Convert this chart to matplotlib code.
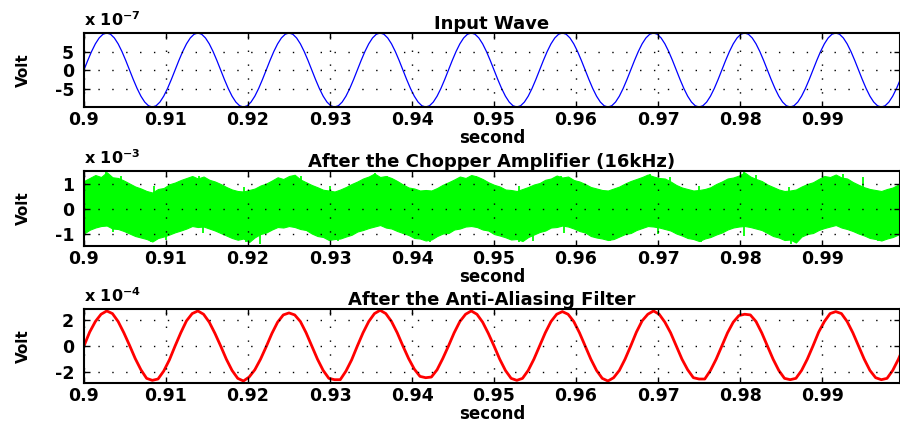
import numpy as np
import matplotlib.pyplot as plt

plt.rcParams['font.family'] = ['DejaVu Sans']
plt.rcParams['font.weight'] = 'bold'
plt.rcParams['axes.unicode_minus'] = False

# input tone: 90 Hz, one period sampled every 15 degrees (x 1e-7 V)
f_in = 90.0
input_cycle = [0.0, 2.59, 5.0, 7.07, 8.66, 9.66, 10.0, 9.66, 8.66, 7.07, 5.0, 2.59,
               0.0, -2.59, -5.0, -7.07, -8.66, -9.66, -10.0, -9.66, -8.66, -7.07, -5.0, -2.59]

# chopper amplifier output band, upper / lower edge, 16 points per input cycle (x 1e-3 V)
chop_upper = [
    [1.10, 1.22, 1.34, 1.26, 1.45, 1.25, 1.22, 1.12, 1.00, 0.88, 0.80, 0.70, 0.64, 0.78, 0.82, 0.97],
    [1.04, 1.14, 1.22, 1.30, 1.20, 1.28, 1.15, 1.08, 0.98, 0.86, 0.76, 0.70, 0.68, 0.74, 0.80, 0.92],
    [1.00, 1.12, 1.25, 1.18, 1.30, 1.35, 1.16, 1.05, 0.94, 0.85, 0.75, 0.72, 0.68, 0.76, 0.86, 0.98],
    [1.08, 1.20, 1.28, 1.40, 1.26, 1.30, 1.22, 1.10, 0.96, 0.84, 0.80, 0.72, 0.74, 0.72, 0.82, 0.95],
    [1.05, 1.16, 1.28, 1.22, 1.34, 1.28, 1.18, 1.05, 0.95, 0.88, 0.76, 0.74, 0.70, 0.78, 0.86, 0.96],
    [1.02, 1.15, 1.20, 1.32, 1.24, 1.28, 1.14, 1.08, 0.98, 0.86, 0.80, 0.74, 0.72, 0.80, 0.88, 1.00],
    [1.10, 1.18, 1.26, 1.36, 1.28, 1.22, 1.20, 1.08, 0.94, 0.84, 0.78, 0.72, 0.74, 0.78, 0.85, 0.98],
    [1.08, 1.20, 1.24, 1.32, 1.44, 1.28, 1.18, 1.10, 0.96, 0.86, 0.76, 0.70, 0.72, 0.76, 0.88, 0.98],
    [1.05, 1.18, 1.30, 1.26, 1.36, 1.24, 1.20, 1.06, 0.95, 0.85, 0.78, 0.74, 0.70, 0.78, 0.84, 0.96],
]
chop_lower = [
    [-1.00, -0.85, -0.76, -0.70, -0.68, -0.80, -0.82, -0.90, -1.00, -1.10, -1.16, -1.22, -1.32, -1.18, -1.12, -1.04],
    [-0.95, -0.88, -0.80, -0.70, -0.74, -0.72, -0.80, -0.88, -0.98, -1.08, -1.18, -1.25, -1.20, -1.34, -1.15, -1.02],
    [-0.96, -0.84, -0.74, -0.76, -0.70, -0.74, -0.82, -0.86, -1.00, -1.10, -1.14, -1.26, -1.22, -1.20, -1.12, -1.05],
    [-0.92, -0.86, -0.78, -0.72, -0.66, -0.76, -0.80, -0.90, -0.98, -1.06, -1.18, -1.20, -1.28, -1.24, -1.10, -1.00],
    [-0.98, -0.84, -0.80, -0.72, -0.70, -0.74, -0.84, -0.88, -1.02, -1.08, -1.15, -1.24, -1.22, -1.30, -1.14, -1.04],
    [-0.94, -0.88, -0.76, -0.74, -0.68, -0.72, -0.80, -0.90, -0.96, -1.10, -1.16, -1.20, -1.26, -1.22, -1.12, -1.02],
    [-0.98, -0.86, -0.78, -0.70, -0.72, -0.76, -0.82, -0.88, -1.00, -1.08, -1.18, -1.22, -1.30, -1.20, -1.14, -1.04],
    [-0.96, -0.84, -0.76, -0.72, -0.70, -0.74, -0.80, -0.86, -0.98, -1.10, -1.16, -1.26, -1.24, -1.36, -1.12, -1.02],
    [-0.98, -0.86, -0.78, -0.72, -0.66, -0.76, -0.82, -0.90, -1.00, -1.08, -1.18, -1.22, -1.28, -1.20, -1.14, -1.04],
]
chop_end = (1.05, -0.98)

# isolated noise spikes on the band edges (s, x 1e-3 V)
spike_up_t = [0.9027, 0.9045, 0.9085, 0.9140, 0.9195, 0.9265, 0.9300, 0.9355, 0.9370, 0.9478,
              0.9530, 0.9582, 0.9690, 0.9715, 0.9750, 0.9805, 0.9820, 0.9860, 0.9925, 0.9950]
spike_up_v = [1.48, 1.30, 0.90, 1.32, 0.88, 1.30, 0.90, 1.42, 1.32, 1.30,
              0.92, 1.32, 1.38, 1.28, 0.90, 1.45, 1.35, 0.88, 1.38, 1.28]
spike_dn_t = [0.9035, 0.9082, 0.9100, 0.9145, 0.9198, 0.9215, 0.9310, 0.9422, 0.9530, 0.9548,
              0.9585, 0.9642, 0.9700, 0.9752, 0.9805, 0.9862, 0.9968]
spike_dn_v = [-0.95, -1.35, -1.25, -0.98, -1.32, -1.40, -1.30, -1.35, -1.32, -1.28,
              -0.98, -1.30, -1.00, -1.34, -1.10, -1.42, -1.30]

# anti-aliasing filter output, 16 points per input cycle (x 1e-4 V)
filtered = [
    [0.00, 1.05, 1.85, 2.40, 2.65, 2.45, 1.85, 1.00, 0.05, -0.95, -1.80, -2.45, -2.60, -2.50, -1.90, -1.05],
    [0.00, 1.00, 1.90, 2.45, 2.65, 2.40, 1.80, 0.95, 0.00, -1.00, -1.85, -2.45, -2.65, -2.35, -1.80, -1.00],
    [-0.05, 0.95, 1.80, 2.35, 2.50, 2.35, 1.85, 1.00, 0.00, -1.00, -1.85, -2.45, -2.55, -2.55, -1.90, -1.05],
    [0.00, 1.00, 1.85, 2.45, 2.70, 2.45, 1.85, 1.00, 0.00, -0.95, -1.75, -2.30, -2.40, -2.35, -1.80, -0.95],
    [0.00, 1.00, 1.85, 2.40, 2.65, 2.40, 1.80, 0.95, 0.00, -1.00, -1.85, -2.45, -2.60, -2.45, -1.85, -1.00],
    [0.00, 1.00, 1.85, 2.40, 2.60, 2.40, 1.85, 1.00, 0.00, -1.00, -1.85, -2.45, -2.65, -2.40, -1.85, -1.00],
    [0.00, 1.05, 1.90, 2.40, 2.65, 2.40, 1.80, 1.00, 0.00, -1.00, -1.80, -2.40, -2.50, -2.50, -1.85, -1.00],
    [0.00, 1.00, 1.80, 2.30, 2.40, 2.35, 1.85, 1.00, 0.00, -1.00, -1.85, -2.45, -2.55, -2.45, -1.85, -1.00],
    [0.00, 1.05, 1.85, 2.45, 2.60, 2.45, 1.85, 1.00, 0.00, -1.00, -1.85, -2.40, -2.55, -2.45, -1.85, -1.00],
]
filtered_end = 0.0

xticks = [0.9, 0.91, 0.92, 0.93, 0.94, 0.95, 0.96, 0.97, 0.98, 0.99]
xticklabels = ['0.9', '0.91', '0.92', '0.93', '0.94', '0.95', '0.96', '0.97', '0.98', '0.99']
titles = ['Input Wave', 'After the Chopper Amplifier (16kHz)', 'After the Anti-Aliasing Filter']
exponents = ['-7', '-3', '-4']
yticks = [[-5e-7, 0, 5e-7], [-1e-3, 0, 1e-3], [-2e-4, 0, 2e-4]]
yticklabels = [['-5', '0', '5'], ['-1', '0', '1'], ['-2', '0', '2']]
ylims = [(-1e-6, 1e-6), (-1.5e-3, 1.5e-3), (-2.8e-4, 2.8e-4)]

n_cyc = len(filtered)
t0 = 0.9

# blue trace
y_in = np.append(np.tile(input_cycle, n_cyc), input_cycle[0]) * 1e-7
t_in = t0 + np.arange(len(y_in)) / (f_in * len(input_cycle))

# green band
up = np.append(np.ravel(chop_upper), chop_end[0]) * 1e-3
lo = np.append(np.ravel(chop_lower), chop_end[1]) * 1e-3
t_ch = t0 + np.arange(len(up)) / (f_in * 16)

# red trace
y_f = np.append(np.ravel(filtered), filtered_end) * 1e-4
t_f = t0 + np.arange(len(y_f)) / (f_in * 16)

fig = plt.figure(figsize=(9, 4.23), dpi=100)
boxes = [[0.0933, 0.747, 0.9067, 0.175],
         [0.0933, 0.4184, 0.9067, 0.1773],
         [0.0933, 0.0946, 0.9067, 0.175]]
axes = [fig.add_axes(b) for b in boxes]

green = (0, 1, 0)
axes[0].plot(t_in, y_in, color=(0, 0, 1), lw=0.9)
axes[1].fill_between(t_ch, lo, up, color=green, lw=0.8, edgecolor=green)
axes[1].vlines(spike_up_t, 0, np.array(spike_up_v) * 1e-3, color=green, lw=1.3)
axes[1].vlines(spike_dn_t, 0, np.array(spike_dn_v) * 1e-3, color=green, lw=1.3)
axes[2].plot(t_f, y_f, color=(1, 0, 0), lw=2.0)

for i, ax in enumerate(axes):
    ax.set_xlim(0.9, 0.9995)
    ax.set_ylim(*ylims[i])
    ax.set_xticks(xticks)
    ax.set_xticklabels(xticklabels)
    ax.set_yticks(yticks[i])
    ax.set_yticklabels(yticklabels[i])
    ax.tick_params(direction='in', length=4, width=1, top=True, right=True,
                   labelsize=12.5, pad=3)
    for lab in ax.get_xticklabels() + ax.get_yticklabels():
        lab.set_fontweight('bold')
    ax.tick_params(axis='y', pad=7)
    for s in ax.spines.values():
        s.set_linewidth(1.5)
    ax.grid(True, color='black', linestyle=(0, (1, 9)), linewidth=1.0)
    ax.set_axisbelow(False)
    ax.set_title(titles[i], fontsize=13, fontweight='bold', pad=3)
    ax.set_xlabel('second', fontsize=12, fontweight='bold', labelpad=0)
    ax.set_ylabel('Volt', fontsize=11, fontweight='bold', labelpad=17)
    ax.text(0.0, 1.06, r'x 10$^{\mathbf{' + exponents[i] + '}}$', transform=ax.transAxes,
            ha='left', va='bottom', fontsize=11.5, fontweight='bold')

fig.savefig('out.png', dpi=100)
